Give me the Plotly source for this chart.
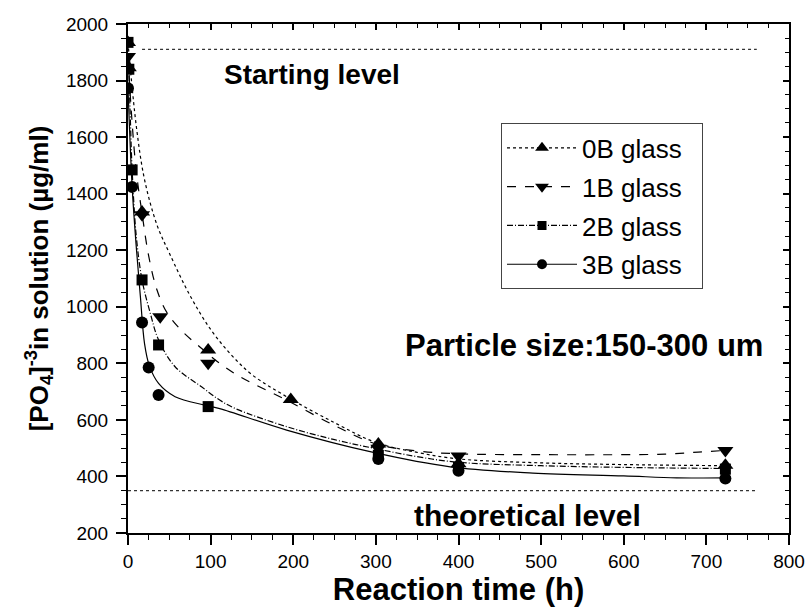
import plotly.graph_objects as go

# Measured phosphate concentration in solution (data points)
t_0b = [0, 1, 17, 97, 197, 303, 400, 723]
c_0b = [1935, 1845, 1335, 847, 672, 515, 445, 440]
t_1b = [0, 17, 39, 97, 303, 400, 723]
c_1b = [1885, 1325, 965, 800, 500, 472, 492]
t_2b = [0, 1, 5, 17, 37, 97, 303, 400, 723]
c_2b = [1935, 1840, 1484, 1095, 865, 647, 475, 432, 426]
t_3b = [0, 5, 17, 25, 37, 303, 400, 723]
c_3b = [1773, 1424, 944, 785, 688, 462, 420, 393]

# Fitted trend curves
ft_0b = [0, 10, 20, 35, 50, 75, 100, 125, 150, 192, 250, 300, 350, 400, 500, 600, 723]
fc_0b = [1935, 1640, 1450, 1290, 1190, 1040, 920, 830, 760, 682, 590, 520, 485, 462, 448, 442, 438]
ft_1b = [0, 5, 10, 17, 25, 35, 47, 65, 87, 111, 136, 192, 250, 300, 350, 400, 500, 600, 650, 690, 723]
fc_1b = [1885, 1650, 1480, 1330, 1180, 1060, 980, 915, 858, 800, 752, 670, 580, 515, 490, 480, 477, 477, 479, 486, 492]
ft_2b = [0, 3, 5, 10, 17, 27, 37, 57, 89, 111, 130, 192, 250, 297, 350, 400, 500, 600, 723]
fc_2b = [1935, 1650, 1484, 1250, 1095, 977, 883, 788, 717, 670, 640, 576, 530, 500, 470, 450, 438, 432, 428]
ft_3b = [0, 5, 10, 15, 20, 26, 37, 57, 93, 111, 192, 297, 390, 490, 600, 664, 723]
fc_3b = [1773, 1425, 1212, 1036, 870, 790, 729, 682, 652, 640, 564, 485, 434, 412, 402, 395, 395]

series_names = ["0B glass", "1B glass", "2B glass", "3B glass"]
symbols = ["triangle-up", "triangle-down", "square", "circle"]
marker_sizes = [14, 14, 11, 12]
dashes = ["dot", "dash", "6px,2px,1px,2px", "solid"]

# Reference levels
start_level = 1910
start_span = [17, 761]
theory_level = 350
theory_span = [0, 760]

x_ticks = list(range(0, 801, 100))
y_ticks = list(range(200, 2001, 200))

FONT = "Arial, Liberation Sans, Helvetica, sans-serif"

points = [(t_0b, c_0b), (t_1b, c_1b), (t_2b, c_2b), (t_3b, c_3b)]
curves = [(ft_0b, fc_0b), (ft_1b, fc_1b), (ft_2b, fc_2b), (ft_3b, fc_3b)]

fig = go.Figure()

# level lines
fig.add_trace(go.Scatter(x=start_span, y=[start_level] * 2, mode="lines",
                         line=dict(color="#333", width=1.3, dash="dot"),
                         showlegend=False, hoverinfo="skip"))
fig.add_trace(go.Scatter(x=theory_span, y=[theory_level] * 2, mode="lines",
                         line=dict(color="#333", width=1.3, dash="dot"),
                         showlegend=False, hoverinfo="skip"))

for i, name in enumerate(series_names):
    ft, fc = curves[i]
    fig.add_trace(go.Scatter(x=ft, y=fc, mode="lines", line_shape="spline",
                             line=dict(color="black", width=1.2, dash=dashes[i]),
                             showlegend=False, legendgroup=name))
    t, c = points[i]
    fig.add_trace(go.Scatter(x=t, y=c, mode="markers",
                             marker=dict(symbol=symbols[i], size=marker_sizes[i],
                                         color="black"),
                             showlegend=False, legendgroup=name))
    # legend entry: line with marker (trailing spaces widen the box)
    fig.add_trace(go.Scatter(x=[None], y=[None], mode="lines+markers",
                             name=name + "\u00a0\u00a0", legendgroup=name,
                             line=dict(color="black", width=1.2, dash=dashes[i]),
                             marker=dict(symbol=symbols[i], size=marker_sizes[i] - 2,
                                         color="black")))

# invisible trace to anchor the mirrored frame axes
fig.add_trace(go.Scatter(x=[None], y=[None], xaxis="x2", yaxis="y2",
                         showlegend=False, hoverinfo="skip"))

fig.add_annotation(x=223, y=1820, text="<b>Starting level</b>", showarrow=False,
                   font=dict(family=FONT, size=28, color="black"))
fig.add_annotation(x=552, y=862, text="<b>Particle size:150-300 um</b>", showarrow=False,
                   font=dict(family=FONT, size=31, color="black"))
fig.add_annotation(x=484, y=262, text="<b>theoretical level</b>", showarrow=False,
                   font=dict(family=FONT, size=30, color="black"))

axis_common = dict(showgrid=False, zeroline=False, showline=True, linecolor="black",
                   linewidth=2, tickcolor="black", tickwidth=1.5, automargin=False,
                   tickfont=dict(family=FONT, size=19, color="black"))

fig.update_layout(
    width=805, height=608,
    margin=dict(l=128, r=16, t=24, b=75),
    paper_bgcolor="white", plot_bgcolor="white",
    font=dict(family=FONT, color="black"),
    xaxis=dict(range=[0, 800], tickvals=x_ticks, ticks="outside", ticklen=10,
               ticklabelstandoff=0,
               minor=dict(dtick=25, tick0=0, ticks="outside", ticklen=5,
                          tickcolor="black", tickwidth=1.2),
               title=dict(text="<b>Reaction time (h)</b>", standoff=4,
                          font=dict(family=FONT, size=31, color="black")),
               **axis_common),
    yaxis=dict(range=[200, 2000], tickvals=y_ticks, ticks="outside", ticklen=10,
               ticklabelstandoff=4,
               minor=dict(dtick=50, tick0=0, ticks="outside", ticklen=5,
                          tickcolor="black", tickwidth=1.2),
               title=dict(text="<b>[PO<sub>4</sub>]<sup>-3</sup>in solution (µg/ml)</b>",
                          standoff=10, font=dict(family=FONT, size=26, color="black")),
               **axis_common),
    xaxis2=dict(range=[0, 800], overlaying="x", side="top", anchor="y",
                tickvals=x_ticks, ticks="inside", ticklen=6, showticklabels=False,
                minor=dict(dtick=25, tick0=0, ticks="inside", ticklen=4,
                           tickcolor="black", tickwidth=1.2),
                **axis_common),
    yaxis2=dict(range=[200, 2000], overlaying="y", side="right", anchor="x",
                tickvals=y_ticks, ticks="inside", ticklen=6, showticklabels=False,
                minor=dict(dtick=50, tick0=0, ticks="inside", ticklen=4,
                           tickcolor="black", tickwidth=1.2),
                **axis_common),
    legend=dict(x=0.564, y=0.805, xanchor="left", yanchor="top",
                bordercolor="#444", borderwidth=1.2, bgcolor="white",
                font=dict(family=FONT, size=26, color="black"),
                itemwidth=70, tracegroupgap=2),
    showlegend=True,
)

fig.write_html("out.html")
